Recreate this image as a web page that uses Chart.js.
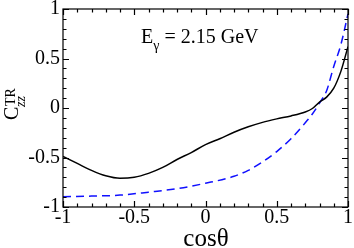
<!DOCTYPE html>
<html>
<head>
<meta charset="utf-8">
<script src="https://cdn.jsdelivr.net/npm/chart.js@4"></script>
<style>
html, body { margin: 0; padding: 0; background: #fff; }
#wrap { width: 354px; height: 248px; }
</style>
</head>
<body>
<div id="wrap"><canvas id="c"></canvas></div>
<script>
// cos(theta) grid and C_zz^TR values
var cosSolid = [-1, -0.9, -0.8, -0.7, -0.6, -0.5, -0.4, -0.3, -0.2, -0.1, 0, 0.1, 0.2, 0.3, 0.4, 0.5, 0.6, 0.7, 0.75, 0.8, 0.85, 0.9, 0.95, 1];
var ctrSolid = [-0.49, -0.56, -0.63, -0.685, -0.71, -0.70, -0.66, -0.60, -0.52, -0.45, -0.37, -0.31, -0.245, -0.19, -0.145, -0.11, -0.08, -0.04, -0.005, 0.06, 0.11, 0.20, 0.37, 0.62];

var cosDashed = [-1, -0.8, -0.6, -0.4, -0.2, 0, 0.2, 0.3, 0.4, 0.5, 0.6, 0.7, 0.75, 0.8, 0.85, 0.9, 0.95, 1];
var ctrDashed = [-0.897, -0.89, -0.88, -0.85, -0.815, -0.76, -0.69, -0.63, -0.545, -0.44, -0.31, -0.15, -0.06, 0.05, 0.175, 0.42, 0.64, 0.95];

var tickLabels = [-1, -0.5, 0, 0.5, 1];
var minorTicks = [-1, -0.9, -0.8, -0.7, -0.6, -0.5, -0.4, -0.3, -0.2, -0.1, 0, 0.1, 0.2, 0.3, 0.4, 0.5, 0.6, 0.7, 0.8, 0.9, 1];

var serif = "'Liberation Serif', 'Times New Roman', serif";

function pts(xs, ys) {
  return xs.map(function (x, i) { return { x: x, y: ys[i] }; });
}

var frame = {
  id: 'frame',
  afterDraw: function (chart) {
    var ctx = chart.ctx, ca = chart.chartArea;
    var sx = chart.scales.x, sy = chart.scales.y;
    ctx.save();

    // inward ticks on all four sides
    ctx.strokeStyle = '#000';
    ctx.lineWidth = 1.2;
    ctx.beginPath();
    minorTicks.forEach(function (v) {
      var len = (tickLabels.indexOf(v) >= 0) ? 6 : 3.5;
      var px = Math.round(sx.getPixelForValue(v)) + 0.5;
      ctx.moveTo(px, ca.bottom); ctx.lineTo(px, ca.bottom - len);
      ctx.moveTo(px, ca.top); ctx.lineTo(px, ca.top + len);
      var py = Math.round(sy.getPixelForValue(v)) + 0.5;
      ctx.moveTo(ca.left, py); ctx.lineTo(ca.left + len, py);
      ctx.moveTo(ca.right, py); ctx.lineTo(ca.right - len, py);
    });
    ctx.stroke();

    ctx.lineWidth = 1.2;
    ctx.strokeRect(ca.left, ca.top, ca.right - ca.left, ca.bottom - ca.top);

    ctx.fillStyle = '#000';
    ctx.textBaseline = 'alphabetic';
    ctx.textAlign = 'left';

    // annotation E_gamma = 2.15 GeV
    var x = 141;
    ctx.font = '20px ' + serif;
    ctx.fillText('E', x, 43);
    x += ctx.measureText('E').width;
    ctx.font = '14px ' + serif;
    ctx.fillText('\u03b3', x, 50);
    x += ctx.measureText('\u03b3').width;
    ctx.font = '20px ' + serif;
    ctx.fillText(' = 2.15 GeV', x, 43);

    // x title
    ctx.font = '25px ' + serif;
    ctx.textAlign = 'center';
    ctx.fillText('cos\u03b8', 206, 246);

    // y title C_zz^TR, rotated
    ctx.translate(18, 120);
    ctx.rotate(-Math.PI / 2);
    ctx.textAlign = 'left';
    ctx.font = '20px ' + serif;
    ctx.fillText('C', 0, 0);
    ctx.font = '14px ' + serif;
    ctx.fillText('TR', 14, -3);
    ctx.font = 'italic 14px ' + serif;
    ctx.fillText('zz', 13, 7);
    ctx.restore();
  }
};

new Chart(document.getElementById('c'), {
  type: 'line',
  data: {
    datasets: [{
      data: pts(cosSolid, ctrSolid),
      borderColor: '#000',
      borderWidth: 1.5,
      pointRadius: 0,
      cubicInterpolationMode: 'monotone',
      fill: false
    }, {
      data: pts(cosDashed, ctrDashed),
      borderColor: '#1010ff',
      borderWidth: 1.5,
      borderDash: [8, 5],
      pointRadius: 0,
      cubicInterpolationMode: 'monotone',
      fill: false
    }]
  },
  options: {
    responsive: true,
    maintainAspectRatio: false,
    animation: false,
    layout: { padding: { top: 6, right: 6, left: 0, bottom: 0 } },
    plugins: { legend: { display: false }, tooltip: { enabled: false } },
    scales: {
      x: {
        type: 'linear',
        min: -1, max: 1,
        grid: { display: false, drawTicks: false },
        border: { display: false },
        afterBuildTicks: function (s) { s.ticks = tickLabels.map(function (v) { return { value: v }; }); },
        afterFit: function (s) { s.height = 41; },
        ticks: {
          padding: 1,
          maxRotation: 0,
          color: '#000',
          font: { family: serif, size: 20, lineHeight: 1.0 },
          callback: function (v) { return String(Math.round(v * 10) / 10); }
        }
      },
      y: {
        type: 'linear',
        min: -1, max: 1,
        grid: { display: false, drawTicks: false },
        border: { display: false },
        afterBuildTicks: function (s) { s.ticks = tickLabels.map(function (v) { return { value: v }; }); },
        afterFit: function (s) { s.width = 63; },
        ticks: {
          padding: 3,
          color: '#000',
          font: { family: serif, size: 20, lineHeight: 0.6 },
          callback: function (v) { return String(Math.round(v * 10) / 10); }
        }
      }
    }
  },
  plugins: [frame]
});
</script>
</body>
</html>
